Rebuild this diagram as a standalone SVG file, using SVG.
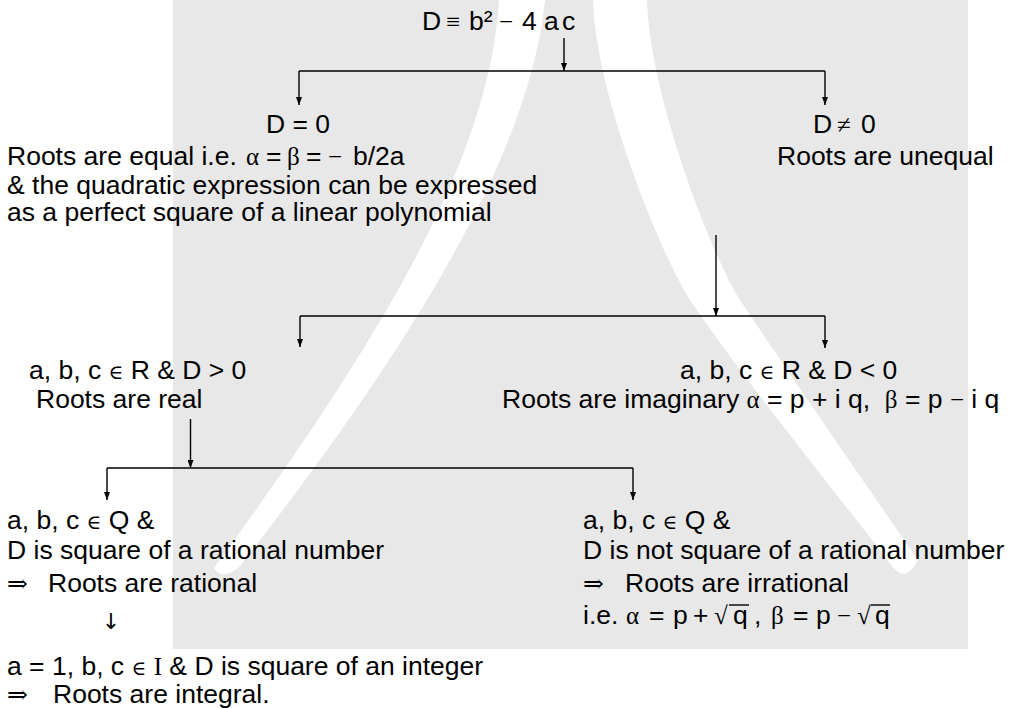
<svg xmlns="http://www.w3.org/2000/svg" width="1010" height="708" viewBox="0 0 1010 708">
<style>
.t{font-family:"Liberation Sans",Arial,sans-serif;font-size:26.5px;fill:#000;white-space:pre}
.m{font-family:"Liberation Serif","DejaVu Serif",serif;font-size:25px}
.e{font-family:"DejaVu Serif","Liberation Serif",serif;font-size:20px}
.c{fill:none;stroke:#000;stroke-width:1.4}
.a{marker-end:url(#ah)}
.wm{fill:#fff}
</style>
<defs>
<marker id="ah" viewBox="0 0 8 6" refX="8" refY="3" markerWidth="8" markerHeight="6" markerUnits="userSpaceOnUse" orient="auto"><path d="M0,0 L8,3 L0,6 z" fill="#000"/></marker>
</defs>
<rect width="1010" height="708" fill="#fff"/>
<rect x="173" y="0" width="795" height="649" fill="#e8e8e8"/>
<g id="watermark">
<path class="wm" d="M499 0 C490 150 395 320 214 568 Q222 582 240 566 C420 335 530 150 545 0 Z"/>
<path class="wm" d="M593 0 C596 100 665 262 690 300 C740 375 850 510 892 566 Q906 584 918 560 C880 505 790 375 740 300 C715 262 650 100 647 0 Z"/>
</g>
<g id="connectors">
<line class="c a" x1="564" y1="38" x2="564" y2="71"/>
<line class="c" x1="299" y1="71" x2="825" y2="71"/>
<line class="c a" x1="299" y1="71" x2="299" y2="105"/>
<line class="c a" x1="825" y1="71" x2="825" y2="105"/>
<line class="c a" x1="716" y1="235" x2="716" y2="316"/>
<line class="c" x1="300" y1="316" x2="825" y2="316"/>
<line class="c a" x1="300" y1="316" x2="300" y2="347"/>
<line class="c a" x1="825" y1="316" x2="825" y2="348"/>
<line class="c a" x1="190.5" y1="419" x2="190.5" y2="468"/>
<line class="c" x1="107" y1="468" x2="633" y2="468"/>
<line class="c a" x1="107" y1="468" x2="107" y2="500"/>
<line class="c a" x1="633" y1="468" x2="633" y2="500"/>
<text x="111" y="629" text-anchor="middle" style="font-family:'DejaVu Sans',sans-serif;font-size:22px;fill:#000">↓</text>
</g>
<g id="n-disc">
<text class="t" y="30"><tspan x="422">D</tspan><tspan class="m" x="446">≡</tspan><tspan x="469">b²</tspan><tspan class="m" x="499">−</tspan><tspan x="522">4</tspan><tspan x="544">a</tspan><tspan x="562">c</tspan></text>
</g>
<g id="n-d0">
<text class="t" x="266" y="133">D = 0</text>
<text class="t" y="165"><tspan x="7">Roots are equal i.e.</tspan><tspan class="m" x="246">α</tspan><tspan x="266">=</tspan><tspan class="m" x="287">β</tspan><tspan x="306">=</tspan><tspan class="m" x="328">−</tspan><tspan x="353">b/2a</tspan></text>
<text class="t" x="7" y="194">&amp; the quadratic expression can be expressed</text>
<text class="t" x="7" y="221">as a perfect square of a linear polynomial</text>
</g>
<g id="n-dne0">
<text class="t" y="133"><tspan x="813">D</tspan><tspan class="m" x="837">≠</tspan><tspan x="861">0</tspan></text>
<text class="t" x="777" y="165">Roots are unequal</text>
</g>
<g id="n-real">
<text class="t" x="29" y="379">a, b, c <tspan class="e">∈</tspan> R &amp; D &gt; 0</text>
<text class="t" x="36" y="408">Roots are real</text>
</g>
<g id="n-imag">
<text class="t" x="680" y="379">a, b, c <tspan class="e">∈</tspan> R &amp; D &lt; 0</text>
<text class="t" x="502" y="408">Roots are imaginary <tspan class="m">α</tspan> = p + i q,  <tspan class="m">β</tspan> = p <tspan class="m">−</tspan> i q</text>
</g>
<g id="n-rational">
<text class="t" x="7" y="529">a, b, c <tspan class="e">∈</tspan> Q &amp;</text>
<text class="t" x="7" y="559">D is square of a rational number</text>
<text class="t" y="592"><tspan class="m" x="7">⇒</tspan><tspan x="48">Roots are rational</tspan></text>
</g>
<g id="n-integral">
<text class="t" x="7" y="675">a = 1, b, c <tspan class="e">∈</tspan> <tspan class="m">I</tspan> &amp; D is square of an integer</text>
<text class="t" y="703"><tspan class="m" x="7">⇒</tspan><tspan x="53">Roots are integral.</tspan></text>
</g>
<g id="n-irrational">
<text class="t" x="583" y="529">a, b, c <tspan class="e">∈</tspan> Q &amp;</text>
<text class="t" x="583" y="559">D is not square of a rational number</text>
<text class="t" y="592"><tspan class="m" x="583">⇒</tspan><tspan x="625">Roots are irrational</tspan></text>
<text class="t" y="624"><tspan x="583">i.e.</tspan><tspan class="m" x="626">α</tspan><tspan x="649">=</tspan><tspan x="673">p</tspan><tspan x="693">+</tspan><tspan class="m" x="714">√</tspan><tspan x="733">q</tspan><tspan x="754">,</tspan><tspan class="m" x="771">β</tspan><tspan x="793">=</tspan><tspan x="816">p</tspan><tspan class="m" x="837">−</tspan><tspan class="m" x="857">√</tspan><tspan x="875">q</tspan></text>
<line class="c" x1="729" y1="605" x2="749" y2="605"/>
<line class="c" x1="871" y1="605" x2="890" y2="605"/>
</g>
</svg>
